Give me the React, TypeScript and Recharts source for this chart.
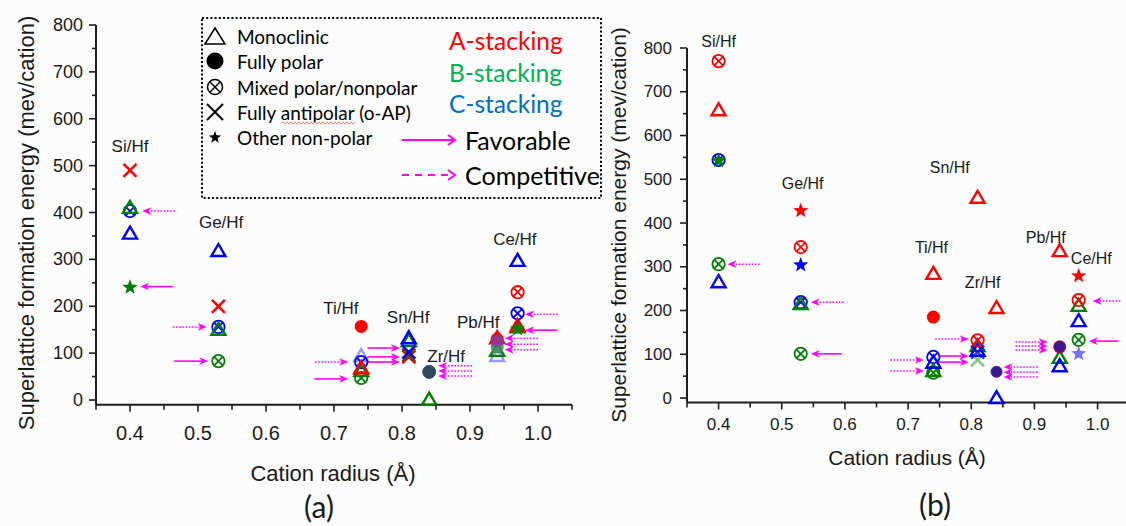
import React from 'react';
import { ScatterChart, Scatter, XAxis, YAxis, ReferenceLine, ReferenceDot } from 'recharts';

// ---------------- axes ----------------
const X_TICKS = [0.35, 0.4, 0.45, 0.5, 0.55, 0.6, 0.65, 0.7, 0.75, 0.8, 0.85, 0.9, 0.95, 1.0, 1.05];
const Y_TICKS = [0, 50, 100, 150, 200, 250, 300, 350, 400, 450, 500, 550, 600, 650, 700, 750, 800];
const X_DOMAIN: [number, number] = [0.35, 1.05];
const Y_DOMAIN: [number, number] = [-10, 800];

const CATIONS = ['Si/Hf', 'Ge/Hf', 'Ti/Hf', 'Sn/Hf', 'Zr/Hf', 'Pb/Hf', 'Ce/Hf'];

// ---------------- panel (a) data ----------------
const a_redCross = [{ x: 0.40, y: 490 }, { x: 0.53, y: 200 }, { x: 0.81, y: 92 }];
const a_redTriangle = [{ x: 0.74, y: 70 }, { x: 0.94, y: 134 }, { x: 0.97, y: 160 }];
const a_redMixed = [{ x: 0.97, y: 230 }];
const a_redCircle = [{ x: 0.74, y: 157 }, { x: 0.94, y: 130 }];
const a_greenTriangle = [{ x: 0.40, y: 412 }, { x: 0.53, y: 152 }, { x: 0.74, y: 64 }, { x: 0.81, y: 128 }, { x: 0.84, y: 3 }, { x: 0.94, y: 107 }, { x: 0.97, y: 157 }];
const a_greenMixed = [{ x: 0.53, y: 83 }, { x: 0.74, y: 47 }];
const a_greenCross = [{ x: 0.81, y: 96 }];
const a_greenStar = [{ x: 0.40, y: 242 }, { x: 0.97, y: 153 }];
const a_greenCircle = [{ x: 0.94, y: 113 }];
const a_blueTriangle = [{ x: 0.40, y: 357 }, { x: 0.53, y: 320 }, { x: 0.81, y: 134 }, { x: 0.97, y: 299 }];
const a_blueTriangleFaint = [{ x: 0.74, y: 96 }, { x: 0.94, y: 96 }];
const a_blueMixed = [{ x: 0.40, y: 403 }, { x: 0.53, y: 156 }, { x: 0.74, y: 81 }, { x: 0.97, y: 185 }];
const a_blueCross = [{ x: 0.81, y: 102 }];
const a_blueCircle = [{ x: 0.94, y: 126 }];
const a_overlapCircle = [{ x: 0.84, y: 60 }];

const a_labelPos = [
  { x: 0.40, y: 540 }, { x: 0.534, y: 378 }, { x: 0.71, y: 196 }, { x: 0.809, y: 175 },
  { x: 0.865, y: 92 }, { x: 0.912, y: 166 }, { x: 0.966, y: 343 },
];

const a_arrows = [
  { y: 403, x1: 0.466, x2: 0.418, dotted: true },
  { y: 242, x1: 0.463, x2: 0.415, dotted: false },
  { y: 156, x1: 0.463, x2: 0.513, dotted: true },
  { y: 83, x1: 0.465, x2: 0.515, dotted: false },
  { y: 81, x1: 0.672, x2: 0.721, dotted: true },
  { y: 45, x1: 0.671, x2: 0.721, dotted: false },
  { y: 111, x1: 0.749, x2: 0.797, dotted: false },
  { y: 92, x1: 0.749, x2: 0.797, dotted: false },
  { y: 81, x1: 0.749, x2: 0.797, dotted: false },
  { y: 73, x1: 0.903, x2: 0.853, dotted: true },
  { y: 62, x1: 0.903, x2: 0.853, dotted: true },
  { y: 51, x1: 0.903, x2: 0.853, dotted: true },
  { y: 132, x1: 1.0, x2: 0.951, dotted: true },
  { y: 119, x1: 1.0, x2: 0.951, dotted: true },
  { y: 107, x1: 1.0, x2: 0.951, dotted: true },
  { y: 183, x1: 1.029, x2: 0.981, dotted: true },
  { y: 149, x1: 1.028, x2: 0.981, dotted: false },
];

// ---------------- panel (b) data ----------------
const b_redMixed = [{ x: 0.40, y: 770 }, { x: 0.53, y: 345 }, { x: 0.81, y: 132 }, { x: 0.97, y: 224 }];
const b_redTriangle = [{ x: 0.40, y: 660 }, { x: 0.74, y: 286 }, { x: 0.81, y: 460 }, { x: 0.84, y: 208 }, { x: 0.94, y: 338 }];
const b_redStar = [{ x: 0.53, y: 430 }, { x: 0.97, y: 281 }];
const b_redCircle = [{ x: 0.74, y: 185 }, { x: 0.94, y: 117 }];
const b_greenStar = [{ x: 0.40, y: 544 }];
const b_greenMixed = [{ x: 0.40, y: 306 }, { x: 0.53, y: 101 }, { x: 0.74, y: 58 }, { x: 0.97, y: 133 }];
const b_greenTriangle = [{ x: 0.53, y: 217 }, { x: 0.74, y: 64 }, { x: 0.81, y: 121 }, { x: 0.94, y: 94 }, { x: 0.97, y: 213 }];
const b_greenCrossFaint = [{ x: 0.81, y: 87 }];
const b_blueMixed = [{ x: 0.40, y: 544 }, { x: 0.53, y: 219 }, { x: 0.74, y: 94 }];
const b_blueTriangle = [{ x: 0.40, y: 267 }, { x: 0.74, y: 83 }, { x: 0.81, y: 110 }, { x: 0.84, y: 2 }, { x: 0.94, y: 75 }, { x: 0.97, y: 178 }];
const b_blueStar = [{ x: 0.53, y: 306 }];
const b_blueStarFaint = [{ x: 0.97, y: 103 }];
const b_blueCross = [{ x: 0.81, y: 105 }];
const b_overlapCircle = [{ x: 0.84, y: 60 }, { x: 0.94, y: 117 }];

const b_labelPos = [
  { x: 0.40, y: 814 }, { x: 0.533, y: 491 }, { x: 0.737, y: 345 }, { x: 0.766, y: 526 },
  { x: 0.818, y: 263 }, { x: 0.918, y: 368 }, { x: 0.990, y: 320 },
];

const b_arrows = [
  { y: 306, x1: 0.465, x2: 0.414, dotted: true },
  { y: 219, x1: 0.598, x2: 0.546, dotted: true },
  { y: 101, x1: 0.595, x2: 0.546, dotted: false },
  { y: 87, x1: 0.672, x2: 0.725, dotted: true },
  { y: 62, x1: 0.672, x2: 0.725, dotted: true },
  { y: 135, x1: 0.743, x2: 0.796, dotted: true },
  { y: 96, x1: 0.748, x2: 0.796, dotted: false },
  { y: 82, x1: 0.748, x2: 0.796, dotted: false },
  { y: 71, x1: 0.905, x2: 0.851, dotted: true },
  { y: 59, x1: 0.905, x2: 0.851, dotted: true },
  { y: 48, x1: 0.905, x2: 0.851, dotted: true },
  { y: 128, x1: 0.870, x2: 0.921, dotted: true },
  { y: 119, x1: 0.870, x2: 0.921, dotted: true },
  { y: 110, x1: 0.870, x2: 0.921, dotted: true },
  { y: 222, x1: 1.036, x2: 0.992, dotted: true },
  { y: 130, x1: 1.033, x2: 0.986, dotted: false },
];

// ---------------- style ----------------
const RED = '#ff0000';
const GREEN = '#008000';
const BLUE = '#0000ff';
const MAGENTA = '#ff00ff';
const AXIS = '#1e1e1e';
const ARIAL = '"Liberation Sans", Arial, Helvetica, sans-serif';
const CAL = 'Lato, "Open Sans", sans-serif';

type Pt = { x: number; y: number };
type Series = { data: Pt[]; kind: string; color: string; opacity?: number; stroke?: string; size?: number };

const A_SERIES: Series[] = [
  { data: a_greenMixed, kind: 'mixed', color: GREEN },
  { data: a_blueTriangleFaint, kind: 'tri', color: BLUE, opacity: 0.4 },
  { data: a_blueMixed, kind: 'mixed', color: BLUE },
  { data: a_greenTriangle, kind: 'tri', color: GREEN },
  { data: a_redTriangle, kind: 'tri', color: RED },
  { data: a_blueTriangle, kind: 'tri', color: BLUE },
  { data: a_redMixed, kind: 'mixed', color: RED },
  { data: a_redCross, kind: 'cross', color: RED },
  { data: a_greenCross, kind: 'cross', color: '#5a4a10' },
  { data: a_blueCross, kind: 'cross', color: BLUE },
  { data: a_greenStar, kind: 'star', color: GREEN },
  { data: a_greenCircle, kind: 'circle', color: '#3c8c50', opacity: 0.85 },
  { data: a_redCircle, kind: 'circle', color: RED },
  { data: a_blueCircle, kind: 'circle', color: '#6a4cc0', opacity: 0.7 },
  { data: a_overlapCircle, kind: 'circle', color: '#2e4a58', stroke: '#3040a0' },
];

const B_SERIES: Series[] = [
  { data: b_greenCrossFaint, kind: 'cross', color: GREEN, opacity: 0.45 },
  { data: b_greenMixed, kind: 'mixed', color: GREEN },
  { data: b_blueMixed, kind: 'mixed', color: BLUE },
  { data: b_greenTriangle, kind: 'tri', color: GREEN },
  { data: b_blueTriangle, kind: 'tri', color: BLUE },
  { data: b_redTriangle, kind: 'tri', color: RED },
  { data: b_redMixed, kind: 'mixed', color: RED },
  { data: b_blueCross, kind: 'cross', color: BLUE, opacity: 0.8 },
  { data: b_redStar, kind: 'star', color: RED },
  { data: b_blueStar, kind: 'star', color: BLUE },
  { data: b_blueStarFaint, kind: 'star', color: BLUE, opacity: 0.55 },
  { data: b_greenStar, kind: 'star', color: GREEN },
  { data: b_redCircle, kind: 'circle', color: RED },
  { data: b_overlapCircle, kind: 'circle', color: '#3b1890', stroke: '#5a1a9a', size: 0.85 },
];

function starPoints(cx: number, cy: number, R: number, r: number) {
  const pts: string[] = [];
  for (let i = 0; i < 10; i++) {
    const ang = -Math.PI / 2 + (i * Math.PI) / 5;
    const rad = i % 2 === 0 ? R : r;
    pts.push(`${cx + rad * Math.cos(ang)},${cy + rad * Math.sin(ang)}`);
  }
  return pts.join(' ');
}

function drawMarker(kind: string, cx: number, cy: number, color: string, opacity = 1, stroke?: string, size = 1) {
  if (cx == null || cy == null || isNaN(cx) || isNaN(cy)) return <g />;
  switch (kind) {
    case 'tri': {
      const w = 14, h = 12;
      return (
        <polygon
          points={`${cx},${cy - h / 2} ${cx - w / 2},${cy + h / 2} ${cx + w / 2},${cy + h / 2}`}
          fill="none" stroke={color} strokeWidth={2.4} opacity={opacity}
        />
      );
    }
    case 'mixed': {
      const r = 6.2, d = r * 0.72;
      return (
        <g opacity={opacity} stroke={color} strokeWidth={1.8} fill="none">
          <circle cx={cx} cy={cy} r={r} />
          <line x1={cx - d} y1={cy - d} x2={cx + d} y2={cy + d} />
          <line x1={cx - d} y1={cy + d} x2={cx + d} y2={cy - d} />
        </g>
      );
    }
    case 'cross': {
      const d = 6.5;
      return (
        <g opacity={opacity} stroke={color} strokeWidth={2.5}>
          <line x1={cx - d} y1={cy - d} x2={cx + d} y2={cy + d} />
          <line x1={cx - d} y1={cy + d} x2={cx + d} y2={cy - d} />
        </g>
      );
    }
    case 'star':
      return <polygon points={starPoints(cx, cy + 0.8, 8, 3.4)} fill={color} opacity={opacity} />;
    case 'circle':
    default:
      return (
        <circle cx={cx} cy={cy} r={6.5 * size} fill={color} opacity={opacity}
          stroke={stroke || 'none'} strokeWidth={stroke ? 1 : 0} />
      );
  }
}

const Arrow = (props: any) => {
  const { x1, y1, x2, y2, dotted } = props;
  if ([x1, y1, x2, y2].some((v) => v == null || isNaN(v))) return <g />;
  const dir = Math.sign(x2 - x1) || 1;
  const L = 9, W = 3.8;
  const base = x2 - dir * L;
  return (
    <g>
      <line x1={x1} y1={y1} x2={base + dir * 2} y2={y2} stroke={MAGENTA}
        strokeWidth={dotted ? 1.5 : 1.6} strokeDasharray={dotted ? '1.6 1.6' : undefined} />
      <polygon points={`${x2},${y2} ${base},${y2 - W} ${base + dir * 2.5},${y2} ${base},${y2 + W}`} fill={MAGENTA} />
    </g>
  );
};

const isMajorX = (v: number) => Math.abs(v * 10 - Math.round(v * 10)) < 1e-6;

const XTick = (props: any) => {
  const { x, y, payload, fs, dy } = props;
  const v = payload.value as number;
  const major = isMajorX(v);
  return (
    <g>
      <line x1={x} x2={x} y1={y} y2={y + (major ? 7 : 5)} stroke={AXIS} strokeWidth={1.6} />
      {major && (
        <text x={x} y={y + dy} textAnchor="middle" dominantBaseline="central" fontSize={fs}
          fontFamily={ARIAL} fill="#1a1a1a">{v.toFixed(1)}</text>
      )}
    </g>
  );
};

const YTick = (props: any) => {
  const { x, y, payload, fs, gap } = props;
  const v = payload.value as number;
  const major = v % 100 === 0;
  return (
    <g>
      <line x1={x} x2={x - (major ? 7 : 4)} y1={y} y2={y} stroke={AXIS} strokeWidth={1.6} />
      {major && (
        <text x={x - gap} y={y} textAnchor="end" dominantBaseline="central" fontSize={fs}
          fontFamily={ARIAL} fill="#1a1a1a">{v}</text>
      )}
    </g>
  );
};

type PanelProps = {
  width: number; height: number; margin: any; series: Series[];
  arrows: { y: number; x1: number; x2: number; dotted: boolean }[];
  labelPos: Pt[]; labelFs: number; xfs: number; xdy: number; yfs: number; ygap: number;
};

function Panel(p: PanelProps) {
  return (
    <ScatterChart width={p.width} height={p.height} margin={p.margin}>
      <XAxis type="number" dataKey="x" domain={X_DOMAIN} ticks={X_TICKS} interval={0}
        tickSize={0} tickMargin={0} tickLine={false} height={30}
        axisLine={{ stroke: AXIS, strokeWidth: 2 }}
        tick={(t: any) => <XTick {...t} fs={p.xfs} dy={p.xdy} />} />
      <YAxis type="number" dataKey="y" domain={Y_DOMAIN} ticks={Y_TICKS} interval={0}
        tickSize={0} tickMargin={0} tickLine={false} width={50}
        axisLine={{ stroke: AXIS, strokeWidth: 2 }}
        tick={(t: any) => <YTick {...t} fs={p.yfs} gap={p.ygap} />} />
      {p.series.map((s, i) => (
        <Scatter key={`s${i}`} data={s.data} isAnimationActive={false}
          shape={(sp: any) => drawMarker(s.kind, sp.cx, sp.cy, s.color, s.opacity ?? 1, s.stroke, s.size ?? 1)} />
      ))}
      {p.arrows.map((a, i) => (
        <ReferenceLine key={`a${i}`} segment={[{ x: a.x1, y: a.y }, { x: a.x2, y: a.y }]}
          ifOverflow="visible" shape={(lp: any) => <Arrow {...lp} dotted={a.dotted} />} />
      ))}
      {p.labelPos.map((l, i) => (
        <ReferenceDot key={`l${i}`} x={l.x} y={l.y} r={0} ifOverflow="visible"
          shape={(dp: any) => (
            <text x={dp.cx} y={dp.cy} textAnchor="middle" dominantBaseline="central"
              fontSize={p.labelFs} fontFamily={ARIAL} fill="#1a1a1a">{CATIONS[i]}</text>
          )} />
      ))}
    </ScatterChart>
  );
}

// ---------------- legend (panel a) ----------------
const LEGEND_SHAPES = ['Monoclinic', 'Fully polar', 'Mixed polar/nonpolar', 'Fully antipolar (o-AP)', 'Other non-polar'];
const LEGEND_STACKING = [
  { text: 'A-stacking', color: '#ff0000' },
  { text: 'B-stacking', color: '#00b050' },
  { text: 'C-stacking', color: '#0070c0' },
];
const LEGEND_ARROWS = [
  { text: 'Favorable', dashed: false },
  { text: 'Competitive', dashed: true },
];

function LegendSymbol({ i, cx, cy }: { i: number; cx: number; cy: number }) {
  if (i === 0) return <polygon points={`${cx},${cy - 8} ${cx - 10},${cy + 8} ${cx + 10},${cy + 8}`} fill="none" stroke="#000" strokeWidth={1.5} />;
  if (i === 1) return <circle cx={cx} cy={cy} r={8.5} fill="#000" />;
  if (i === 2) {
    const r = 7.5, d = 5.5;
    return (
      <g stroke="#000" strokeWidth={1.5} fill="none">
        <circle cx={cx} cy={cy} r={r} />
        <line x1={cx - d} y1={cy - d} x2={cx + d} y2={cy + d} />
        <line x1={cx - d} y1={cy + d} x2={cx + d} y2={cy - d} />
      </g>
    );
  }
  if (i === 3) {
    const d = 8;
    return (
      <g stroke="#000" strokeWidth={2}>
        <line x1={cx - d} y1={cy - d} x2={cx + d} y2={cy + d} />
        <line x1={cx - d} y1={cy + d} x2={cx + d} y2={cy - d} />
      </g>
    );
  }
  return <polygon points={starPoints(cx, cy + 0.5, 6.5, 2.7)} fill="#000" />;
}

function wavyPath(x0: number, x1: number, y: number) {
  let d = `M${x0},${y}`;
  let up = true;
  for (let x = x0 + 2; x <= x1; x += 2) {
    d += ` L${x},${y + (up ? -1.2 : 1.2)}`;
    up = !up;
  }
  return d;
}

function Overlay() {
  const rows = [36, 61, 87, 112, 137];
  const stackY = [40, 72, 103];
  const arrowY = [140, 175];
  return (
    <svg width={1126} height={526} style={{ position: 'absolute', left: 0, top: 0, pointerEvents: 'none' }}>
      {/* legend box */}
      <rect x={202} y={18} width={399} height={180} fill="none" stroke="#000" strokeWidth={2} strokeDasharray="2 2.2" />
      {LEGEND_SHAPES.map((t, i) => (
        <g key={t}>
          <LegendSymbol i={i} cx={215} cy={rows[i]} />
          <text x={237} y={rows[i]} dominantBaseline="central" fontSize={19} fontFamily={CAL} fill="#000">{t}</text>
        </g>
      ))}
      <path d={wavyPath(281, 355, 123)} fill="none" stroke="#f08080" strokeWidth={1} />
      {LEGEND_STACKING.map((s, i) => (
        <text key={s.text} x={449} y={stackY[i]} dominantBaseline="central" fontSize={24.5} fontFamily={CAL} fill={s.color}>{s.text}</text>
      ))}
      {LEGEND_ARROWS.map((a, i) => (
        <g key={a.text}>
          <line x1={402} x2={454} y1={arrowY[i]} y2={arrowY[i]} stroke={MAGENTA} strokeWidth={2}
            strokeDasharray={a.dashed ? '7 6' : undefined} />
          <polyline points={`${448},${arrowY[i] - 5} ${455},${arrowY[i]} ${448},${arrowY[i] + 5}`} fill="none" stroke={MAGENTA} strokeWidth={2} />
          <text x={465} y={arrowY[i]} dominantBaseline="central" fontSize={25} fontFamily={CAL} fill="#000">{a.text}</text>
        </g>
      ))}

      {/* axis titles */}
      <text x={333} y={473} textAnchor="middle" dominantBaseline="central" fontSize={22} fontFamily={ARIAL} fill="#1a1a1a">Cation radius (Å)</text>
      <text x={26} y={223} textAnchor="middle" dominantBaseline="central" fontSize={22} fontFamily={ARIAL} fill="#1a1a1a"
        transform="rotate(-90 26 223)">Superlattice formation energy (mev/cation)</text>
      <text x={907} y={457} textAnchor="middle" dominantBaseline="central" fontSize={21} fontFamily={ARIAL} fill="#1a1a1a">Cation radius (Å)</text>
      <text x={618} y={225} textAnchor="middle" dominantBaseline="central" fontSize={21} fontFamily={ARIAL} fill="#1a1a1a"
        transform="rotate(-90 618 225)">Superlattice formation energy (mev/cation)</text>

      <text x={319} y={506} textAnchor="middle" dominantBaseline="central" fontSize={30} fontFamily={CAL} fill="#1a1a1a">(a)</text>
      <text x={935} y={504} textAnchor="middle" dominantBaseline="central" fontSize={30} fontFamily={CAL} fill="#1a1a1a">(b)</text>
    </svg>
  );
}

export default function App() {
  return (
    <div style={{ position: 'absolute', left: 0, top: 0, width: 1126, height: 526, overflow: 'hidden', background: '#fcfcfc' }}>
      <div style={{ position: 'absolute', left: 0, top: 0 }}>
        <Panel width={600} height={526}
          margin={{ left: 46, right: 28, top: 25, bottom: 91.3 }}
          series={A_SERIES} arrows={a_arrows} labelPos={a_labelPos}
          labelFs={17} xfs={20} xdy={28} yfs={18} ygap={13} />
      </div>
      <div style={{ position: 'absolute', left: 600, top: 0 }}>
        <Panel width={560} height={526}
          margin={{ left: 37, right: 30.8, top: 48, bottom: 93.6 }}
          series={B_SERIES} arrows={b_arrows} labelPos={b_labelPos}
          labelFs={16} xfs={17} xdy={22} yfs={17} ygap={15} />
      </div>
      <Overlay />
    </div>
  );
}
